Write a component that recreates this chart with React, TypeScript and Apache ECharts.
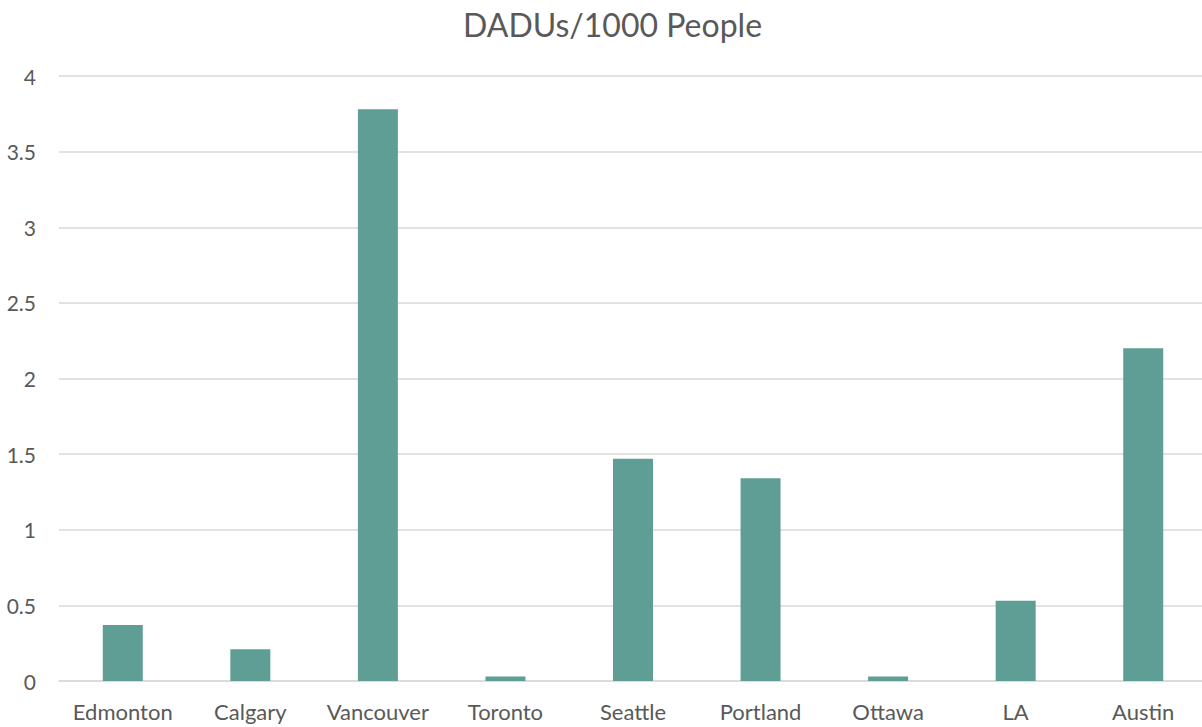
import React, { useEffect, useRef } from "react";
import * as echarts from "echarts";

const categories = ["Edmonton", "Calgary", "Vancouver", "Toronto", "Seattle", "Portland", "Ottawa", "LA", "Austin"];
const values = [0.37, 0.21, 3.78, 0.03, 1.47, 1.34, 0.03, 0.53, 2.2];
const titleText = "DADUs/1000 People";

export default function App() {
  const ref = useRef<HTMLDivElement>(null);
  useEffect(() => {
    document.body.style.margin = "0";
    const chart = echarts.init(ref.current!, null, { renderer: "svg" });
    const font = "Lato, 'Open Sans', sans-serif";
    chart.setOption({
      animation: false,
      title: {
        text: titleText,
        left: 458,
        top: 3,
        textStyle: { fontFamily: font, fontSize: 32, fontWeight: "normal", color: "#595959" },
      },
      grid: { left: 59, right: 3, top: 76, height: 605, containLabel: false },
      xAxis: {
        type: "category",
        data: categories,
        axisLine: { lineStyle: { color: "#d9d9d9", width: 1.5 } },
        axisTick: { show: false },
        axisLabel: { color: "#595959", fontFamily: font, fontSize: 22, margin: 19, interval: 0 },
      },
      yAxis: {
        type: "value",
        min: 0,
        max: 4,
        interval: 0.5,
        axisLine: { show: false },
        axisTick: { show: false },
        splitLine: { lineStyle: { color: "#d9d9d9", width: 1.5 } },
        axisLabel: { color: "#595959", fontFamily: font, fontSize: 21, margin: 23 },
      },
      series: [
        {
          type: "bar",
          data: values,
          barWidth: 40,
          itemStyle: { color: "#5F9E94" },
        },
      ],
    });
    return () => chart.dispose();
  }, []);
  return (
    <div style={{ position: "absolute", left: 0, top: 0, width: 1202, height: 727, overflow: "hidden" }}>
      <div ref={ref} style={{ position: "absolute", left: 0, top: 0, width: 1210, height: 727 }} />
    </div>
  );
}
